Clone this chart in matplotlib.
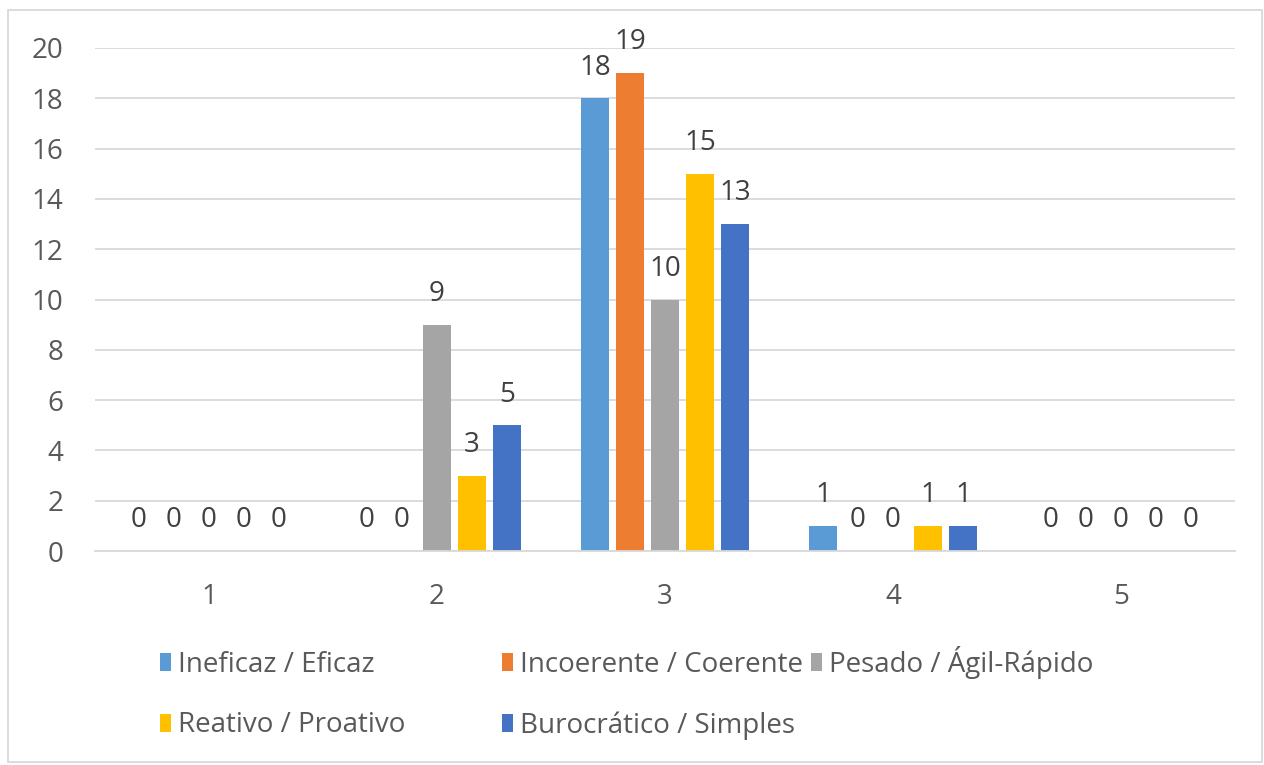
import matplotlib.pyplot as plt
from matplotlib.patches import Rectangle
import numpy as np

plt.rcParams['font.family'] = ['Open Sans', 'DejaVu Sans']

categories = ['1', '2', '3', '4', '5']
series_names = ['Ineficaz / Eficaz', 'Incoerente / Coerente', 'Pesado / Ágil-Rápido',
                'Reativo / Proativo', 'Burocrático / Simples']
ineficaz = [0, 0, 18, 1, 0]
incoerente = [0, 0, 19, 0, 0]
pesado = [0, 9, 10, 0, 0]
reativo = [0, 3, 15, 1, 0]
burocratico = [0, 5, 13, 1, 0]
series_values = [ineficaz, incoerente, pesado, reativo, burocratico]
colors = ['#5B9BD5', '#ED7D31', '#A5A5A5', '#FFC000', '#4472C4']

text_color = '#595959'
fs = 20

fig = plt.figure(figsize=(12.64, 7.65), dpi=100)
ax = fig.add_axes([95 / 1264, 1 - 551 / 765, 1140 / 1264, (551 - 48) / 765])

x = np.arange(len(categories))
pitch = 0.1535
width = 0.123
handles = []
for i, (name, vals, c) in enumerate(zip(series_names, series_values, colors)):
    pos = x + (i - 2) * pitch
    bars = ax.bar(pos, vals, width=width, color=c, label=name, zorder=2)
    handles.append(bars)
    ax.bar_label(bars, labels=[str(v) for v in vals], padding=12,
                 fontsize=fs, color='#404040')

ax.set_xlim(-0.5, 4.5)
ax.set_ylim(0, 20)
ax.set_yticks(np.arange(0, 21, 2))
ax.set_xticks(x)
ax.set_xticklabels(categories)
ax.grid(axis='y', color='#D9D9D9', linewidth=1.3, zorder=0)
for s in ['top', 'right', 'left']:
    ax.spines[s].set_visible(False)
ax.spines['bottom'].set_color('#D9D9D9')
ax.spines['bottom'].set_linewidth(1.3)
ax.tick_params(axis='both', length=0, labelsize=fs, labelcolor=text_color)
ax.tick_params(axis='y', pad=23)
ax.tick_params(axis='x', pad=23)

# legend laid out as three columns, like the original Excel legend
leg_kw = dict(loc='upper left', frameon=False, fontsize=fs, handlelength=0.4,
              handleheight=0.6, handletextpad=0.25, labelspacing=1.17,
              labelcolor=text_color, borderpad=0, borderaxespad=0)
fig.legend([handles[0], handles[3]], [series_names[0], series_names[3]],
           bbox_to_anchor=(160 / 1264, 1 - 651 / 765), **leg_kw)
fig.legend([handles[1], handles[4]], [series_names[1], series_names[4]],
           bbox_to_anchor=(502 / 1264, 1 - 651 / 765), **leg_kw)
fig.legend([handles[2]], [series_names[2]],
           bbox_to_anchor=(811 / 1264, 1 - 646 / 765), **leg_kw)

fig.patches.append(Rectangle((8 / 1264, 3 / 765), 1254 / 1264, 752 / 765, transform=fig.transFigure,
                             fill=False, edgecolor='#D9D9D9', linewidth=1.3))

fig.savefig('out.png', dpi=100)
